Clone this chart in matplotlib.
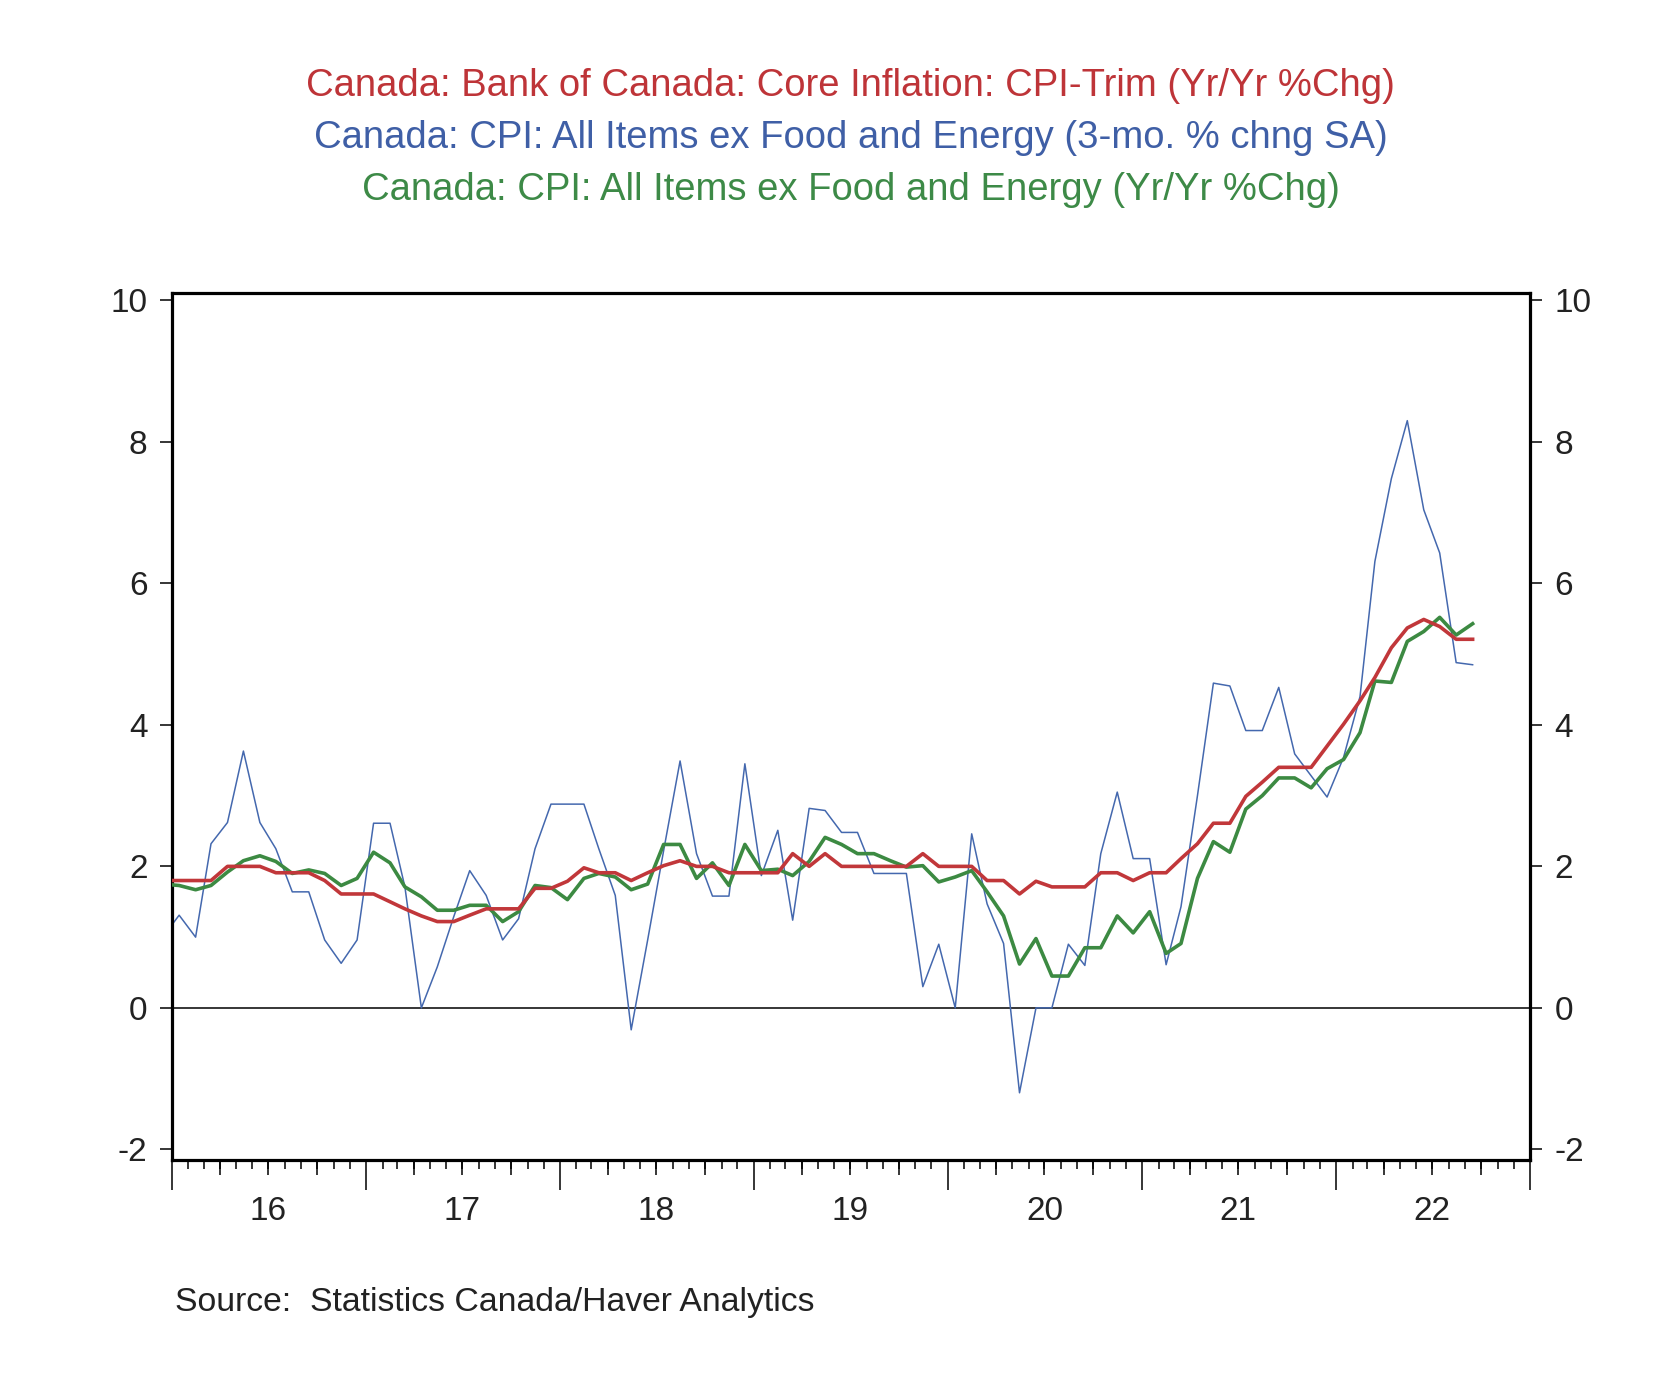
import matplotlib
matplotlib.use("Agg")
import matplotlib.pyplot as plt
import matplotlib.dates as mdates
from matplotlib.ticker import FixedLocator, NullFormatter
import numpy as np
import pandas as pd

plt.rcParams['font.family'] = ['Liberation Sans', 'DejaVu Sans']

# Monthly data, Dec 2015 .. Sep 2022 (first point lies left of the axis and is clipped)
dates = pd.date_range('2015-12-01', '2022-09-01', freq='MS') + pd.Timedelta(days=14)

cpi_trim = [1.80,
    1.80, 1.80, 1.80, 2.00, 2.00, 2.00, 1.91, 1.91, 1.91, 1.80, 1.61, 1.61,
    1.61, 1.50, 1.40, 1.30, 1.22, 1.22, 1.31, 1.40, 1.40, 1.40, 1.69, 1.69,
    1.79, 1.98, 1.91, 1.91, 1.80, 1.91, 2.01, 2.08, 2.00, 2.00, 1.91, 1.91,
    1.91, 1.91, 2.18, 2.00, 2.18, 2.00, 2.00, 2.00, 2.00, 2.00, 2.18, 2.00,
    2.00, 2.00, 1.80, 1.80, 1.61, 1.79, 1.71, 1.71, 1.71, 1.91, 1.91, 1.80,
    1.91, 1.91, 2.11, 2.32, 2.61, 2.61, 2.99, 3.19, 3.40, 3.40, 3.40, 3.70,
    4.01, 4.34, 4.67, 5.09, 5.37, 5.49, 5.39, 5.21, 5.21]

core_3m = [1.00,
    1.31, 1.00, 2.32, 2.62, 3.63, 2.62, 2.25, 1.64, 1.64, 0.96, 0.63, 0.96,
    2.61, 2.61, 1.71, 0.00, 0.58, 1.29, 1.94, 1.59, 0.96, 1.26, 2.25, 2.88,
    2.88, 2.88, 2.25, 1.59, -0.31, 0.96, 2.22, 3.49, 2.18, 1.58, 1.58, 3.45,
    1.87, 2.51, 1.24, 2.82, 2.79, 2.48, 2.48, 1.90, 1.90, 1.90, 0.30, 0.90,
    0.00, 2.46, 1.47, 0.91, -1.20, 0.00, 0.00, 0.90, 0.60, 2.18, 3.05, 2.11,
    2.11, 0.61, 1.43, 3.00, 4.59, 4.55, 3.92, 3.92, 4.53, 3.59, 3.28, 2.98,
    3.54, 4.40, 6.31, 7.48, 8.30, 7.04, 6.43, 4.88, 4.85]

core_yy = [1.75,
    1.73, 1.67, 1.73, 1.92, 2.08, 2.15, 2.07, 1.90, 1.95, 1.90, 1.73, 1.83,
    2.20, 2.05, 1.71, 1.57, 1.38, 1.38, 1.45, 1.45, 1.22, 1.36, 1.73, 1.70,
    1.53, 1.83, 1.90, 1.85, 1.67, 1.75, 2.31, 2.31, 1.83, 2.05, 1.73, 2.31,
    1.94, 1.96, 1.87, 2.07, 2.41, 2.31, 2.18, 2.18, 2.08, 1.99, 2.01, 1.78,
    1.85, 1.94, 1.64, 1.30, 0.62, 0.98, 0.45, 0.45, 0.85, 0.85, 1.30, 1.06,
    1.36, 0.77, 0.91, 1.83, 2.35, 2.20, 2.81, 3.00, 3.25, 3.25, 3.11, 3.38,
    3.51, 3.89, 4.62, 4.60, 5.18, 5.32, 5.52, 5.27, 5.43]

titles = ["Canada: Bank of Canada: Core Inflation: CPI-Trim (Yr/Yr %Chg)",
          "Canada: CPI: All Items ex Food and Energy (3-mo. % chng SA)",
          "Canada: CPI: All Items ex Food and Energy (Yr/Yr %Chg)"]
year_labels = ['16', '17', '18', '19', '20', '21', '22']
y_ticks = [-2, 0, 2, 4, 6, 8, 10]
source = "Source:  Statistics Canada/Haver Analytics"

RED = '#C1373A'
BLUE = '#4468AE'
GREEN = '#3C8A42'

W, H = 1664, 1376
fig = plt.figure(figsize=(W / 100, H / 100), dpi=100)
L, R, T, B = 171.7, 1530, 293.3, 1160
ax = fig.add_axes([L / W, 1 - B / H, (R - L) / W, (B - T) / H])

ax.axhline(0, color='black', lw=1.1, zorder=1)
ax.plot(dates, core_3m, color=BLUE, lw=1.1, zorder=2)
ax.plot(dates, core_yy, color=GREEN, lw=2.6, zorder=3)
ax.plot(dates, cpi_trim, color=RED, lw=2.6, zorder=4)

ax.set_xlim(pd.Timestamp('2016-01-01'), pd.Timestamp('2023-01-01'))
ax.set_ylim(-2.15, 10.10)

for s in ax.spines.values():
    s.set_linewidth(2.3)

# y axis: both sides
ax.set_yticks(y_ticks)
ax.set_yticklabels([str(v) for v in y_ticks])
ax.tick_params(axis='y', which='major', direction='out', length=8.5, width=1.1,
               labelsize=24, pad=9, left=True, right=True, labelleft=True, labelright=True,
               colors='black')
for lab in ax.get_yticklabels():
    lab.set_color('#222222')

# x axis: years (long), months (short), quarters (medium), labels mid-year
ax.xaxis.set_major_locator(mdates.YearLocator())
ax.xaxis.set_minor_locator(mdates.MonthLocator())
ax.xaxis.set_major_formatter(NullFormatter())
ax.xaxis.set_minor_formatter(NullFormatter())
ax.tick_params(axis='x', which='major', direction='out', length=21.5, width=1.1)
ax.tick_params(axis='x', which='minor', direction='out', length=6.5, width=1.1)

secq = ax.secondary_xaxis('bottom')
secq.xaxis.set_major_locator(mdates.MonthLocator(bymonth=[4, 7, 10]))
secq.xaxis.set_major_formatter(NullFormatter())
secq.tick_params(axis='x', which='major', direction='out', length=11, width=1.1)
secq.tick_params(axis='x', which='minor', length=0)
secq.spines['bottom'].set_visible(False)

secl = ax.secondary_xaxis('bottom')
mid_years = [mdates.date2num(pd.Timestamp(f'20{y}-07-01')) for y in year_labels]
secl.xaxis.set_major_locator(FixedLocator(mid_years))
secl.set_xticklabels(year_labels)
secl.tick_params(axis='x', which='major', length=0, pad=26, labelsize=24, labelcolor='#222222')
secl.tick_params(axis='x', which='minor', length=0)
secl.spines['bottom'].set_visible(False)

cx = (L + R) / 2 / W
for txt, col, yy in zip(titles, ['#BE3438', '#3F5FA6', '#3D8A47'], [86, 138, 190]):
    fig.text(cx, 1 - yy / H, txt, color=col, fontsize=27.5, ha='center', va='center')

fig.text(175 / W, 1 - 1302 / H, source, fontsize=24.3, ha='left', va='center', color='#222222')

fig.savefig('out.png', dpi=100)
